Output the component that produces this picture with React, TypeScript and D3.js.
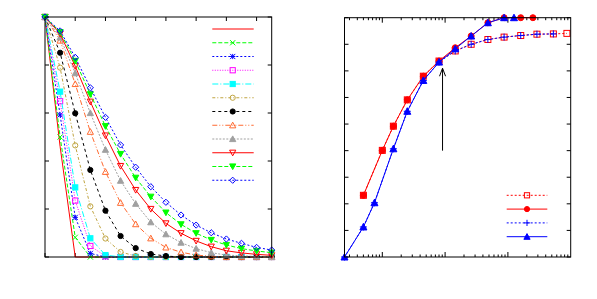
import * as d3 from "d3";

// ---- left panel: decay curves, one value per integer step 0..15 ----
const steps = d3.range(0, 16);
const decayNames = ["s1", "s2", "s3", "s4", "s5", "s6", "s7", "s8", "s9", "s10", "s11", "s12"];
const s1 = [1, 0.46, 0, 0, 0, 0, 0, 0, 0, 0, 0, 0, 0, 0, 0, 0];
const s2 = [1, 0.5, 0.082, 0, 0, 0, 0, 0, 0, 0, 0, 0, 0, 0, 0, 0];
const s3 = [1, 0.592, 0.165, 0.015, 0, 0, 0, 0, 0, 0, 0, 0, 0, 0, 0, 0];
const s4 = [1, 0.649, 0.235, 0.046, 0.003, 0, 0, 0, 0, 0, 0, 0, 0, 0, 0, 0];
const s5 = [1, 0.689, 0.29, 0.078, 0.008, 0, 0, 0, 0, 0, 0, 0, 0, 0, 0, 0];
const s6 = [1, 0.789, 0.465, 0.211, 0.077, 0.021, 0.004, 0, 0, 0, 0, 0, 0, 0, 0, 0];
const s7 = [1, 0.851, 0.599, 0.3625, 0.193, 0.0875, 0.037, 0.0125, 0.004, 0, 0, 0, 0, 0, 0, 0];
const s8 = [1, 0.902, 0.721, 0.522, 0.355, 0.226, 0.137, 0.078, 0.04, 0.02, 0.008, 0.003, 0, 0, 0, 0];
const s9 = [1, 0.915, 0.766, 0.6, 0.447, 0.318, 0.222, 0.145, 0.095, 0.06, 0.035, 0.018, 0.008, 0.005, 0.002, 0.001];
const s10 = [1, 0.93, 0.795, 0.647, 0.506, 0.379, 0.279, 0.2, 0.14, 0.099, 0.067, 0.043, 0.026, 0.017, 0.011, 0.007];
const s11 = [1, 0.937, 0.817, 0.678, 0.545, 0.429, 0.33, 0.251, 0.185, 0.136, 0.099, 0.071, 0.05, 0.035, 0.025, 0.018];
const s12 = [1, 0.942, 0.832, 0.705, 0.582, 0.467, 0.374, 0.293, 0.228, 0.175, 0.133, 0.101, 0.075, 0.057, 0.04, 0.029];
const decayValues = [s1, s2, s3, s4, s5, s6, s7, s8, s9, s10, s11, s12];
const xTicksLeft = [0, 2, 4, 6, 8, 10, 12, 14];
const yTicksLeft = [0, 0.2, 0.4, 0.6, 0.8, 1];

// ---- right panel: growth curves on a log axis ----
const xA = [0.5, 1, 1.5, 2.5, 4.5, 8, 14.5, 26, 48, 87, 160, 290, 530, 870];
const yA = [2.32, 4.01, 4.92, 5.91, 6.8, 7.37, 7.75, 8.0, 8.18, 8.27, 8.33, 8.38, 8.39, 8.41];
const xB = [0.5, 1, 1.5, 2.5, 4.5, 8, 14.5, 26, 48, 87, 160, 250];
const yB = [2.32, 4.01, 4.92, 5.91, 6.8, 7.37, 7.87, 8.31, 8.81, 9.0, 9.0, 9.0];
const xC = [0.25, 0.5, 0.75, 1.5, 2.5, 4.5, 8, 14.5, 26, 48, 87, 160, 290, 530];
const yC = [0, 1.13, 2.04, 4.07, 5.48, 6.64, 7.33, 7.75, 8.0, 8.18, 8.27, 8.33, 8.38, 8.39];
const xD = [0.25, 0.5, 0.75, 1.5, 2.5, 4.5, 8, 14.5, 26, 48, 87, 125];
const yD = [0, 1.13, 2.04, 4.07, 5.48, 6.64, 7.33, 7.83, 8.31, 8.81, 9.0, 9.0];
const yTicksRight = d3.range(0, 10);
const arrowAt = 9.1;
const arrowFrom = 4.0;
const arrowTo = 7.1;

const leftStyles = [
  { color: "#ff0000", dash: "", marker: "none" },
  { color: "#00ff00", dash: "4,2", marker: "x" },
  { color: "#0000ff", dash: "2,2", marker: "star" },
  { color: "#ff00ff", dash: "1,1.5", marker: "sq" },
  { color: "#00ffff", dash: "6,2,1,2", marker: "sqf" },
  { color: "#c0a440", dash: "3,2,1,2", marker: "ci" },
  { color: "#000000", dash: "3,3", marker: "cif" },
  { color: "#ff6a30", dash: "5,2,1,2,1,2", marker: "tri" },
  { color: "#a0a0a0", dash: "2,1.5", marker: "trif" },
  { color: "#ff0000", dash: "", marker: "itri" },
  { color: "#00ff00", dash: "4,2", marker: "itrif" },
  { color: "#0000ff", dash: "2,2", marker: "dia" },
];

const rightSeries = [
  { xs: xA, ys: yA, color: "#ff0000", dash: "2,2", marker: "sq" },
  { xs: xB, ys: yB, color: "#ff0000", dash: "", marker: "cif" },
  { xs: xC, ys: yC, color: "#0000ff", dash: "2,2", marker: "plus" },
  { xs: xD, ys: yD, color: "#0000ff", dash: "", marker: "trif" },
];

function Marker({ kind, x, y, color, r = 2.6 }: { kind: string; x: number; y: number; color: string; r?: number }) {
  const p = { stroke: color, strokeWidth: 1, fill: "none" };
  const h = r + 0.5;
  switch (kind) {
    case "x":
      return <path d={`M${x - r},${y - r}L${x + r},${y + r}M${x - r},${y + r}L${x + r},${y - r}`} {...p} />;
    case "plus":
      return <path d={`M${x - h},${y}L${x + h},${y}M${x},${y - h}L${x},${y + h}`} {...p} />;
    case "star":
      return (
        <path
          d={`M${x - r},${y - r}L${x + r},${y + r}M${x - r},${y + r}L${x + r},${y - r}M${x - r},${y}L${x + r},${y}M${x},${y - r}L${x},${y + r}`}
          {...p}
        />
      );
    case "sq":
      return <rect x={x - r} y={y - r} width={2 * r} height={2 * r} {...p} />;
    case "sqf":
      return <rect x={x - r} y={y - r} width={2 * r} height={2 * r} {...p} fill={color} />;
    case "ci":
      return <circle cx={x} cy={y} r={r} {...p} />;
    case "cif":
      return <circle cx={x} cy={y} r={r} {...p} fill={color} />;
    case "tri":
      return <path d={`M${x},${y - h}L${x + h},${y + r}L${x - h},${y + r}Z`} {...p} />;
    case "trif":
      return <path d={`M${x},${y - h}L${x + h},${y + r}L${x - h},${y + r}Z`} {...p} fill={color} />;
    case "itri":
      return <path d={`M${x},${y + h}L${x + h},${y - r}L${x - h},${y - r}Z`} {...p} />;
    case "itrif":
      return <path d={`M${x},${y + h}L${x + h},${y - r}L${x - h},${y - r}Z`} {...p} fill={color} />;
    case "dia":
      return <path d={`M${x},${y - h}L${x + h},${y}L${x},${y + h}L${x - h},${y}Z`} {...p} />;
    default:
      return null;
  }
}

export default function App() {
  const width = 597;
  const height = 299;

  // left panel scales
  const xl = d3.scaleLinear([0, 15], [45, 271.7]);
  const yl = d3.scaleLinear([0, 1], [257, 17]);
  const lineL = d3
    .line<number>()
    .x((_, i) => xl(steps[i]))
    .y((d) => yl(d));

  // right panel scales
  const xr = d3.scaleLog([0.25, 1000], [344.5, 570.7]);
  const yr = d3.scaleLinear([0, 9], [257, 17.7]);
  const majors = [1, 10, 100];
  const minors: number[] = [];
  [0.1, 1, 10, 100].forEach((dec) => {
    for (let m = 2; m <= 9; m++) {
      const v = dec * m;
      if (v > 0.25 && v < 1000) minors.push(v);
    }
  });

  const tickColor = "#000";
  const [l0, l1] = xl.range();
  const [lb, lt] = yl.range();
  const [r0, r1] = xr.range();
  const [rb, rt] = yr.range();

  return (
    <div style={{ position: "absolute", left: 0, top: 0 }}>
      <svg width={width} height={height} style={{ display: "block", background: "#fff" }}>
        {/* ---------- left panel ---------- */}
        <g>
          {xTicksLeft.map((t) => (
            <g key={"xl" + t}>
              <line x1={xl(t)} x2={xl(t)} y1={lb} y2={lb - 4} stroke={tickColor} />
              <line x1={xl(t)} x2={xl(t)} y1={lt} y2={lt + 4} stroke={tickColor} />
            </g>
          ))}
          {yTicksLeft.map((t) => (
            <g key={"yl" + t}>
              <line x1={l0} x2={l0 + 4} y1={yl(t)} y2={yl(t)} stroke={tickColor} />
              <line x1={l1} x2={l1 - 4} y1={yl(t)} y2={yl(t)} stroke={tickColor} />
            </g>
          ))}
          {decayValues.map((vals, si) => {
            const st = leftStyles[si];
            return (
              <g key={decayNames[si]}>
                <path d={lineL(vals) ?? ""} fill="none" stroke={st.color} strokeWidth={1} strokeDasharray={st.dash} />
                {vals.map((v, i) => (
                  <Marker key={i} kind={st.marker} x={xl(steps[i])} y={yl(v)} color={st.color} />
                ))}
              </g>
            );
          })}
          {decayNames.map((n, si) => {
            const st = leftStyles[si];
            const y = 29 + si * 13.75;
            return (
              <g key={"leg" + n}>
                <line x1={212.3} x2={253.7} y1={y} y2={y} stroke={st.color} strokeDasharray={st.dash} />
                <Marker kind={st.marker} x={232.7} y={y} color={st.color} />
              </g>
            );
          })}
          <rect x={l0} y={lt} width={l1 - l0} height={lb - lt} fill="none" stroke="#000" strokeWidth={1} />
        </g>

        {/* ---------- right panel ---------- */}
        <g>
          {majors.map((t) => (
            <g key={"xr" + t}>
              <line x1={xr(t)} x2={xr(t)} y1={rb} y2={rb - 5} stroke={tickColor} />
              <line x1={xr(t)} x2={xr(t)} y1={rt} y2={rt + 5} stroke={tickColor} />
            </g>
          ))}
          {minors.map((t) => (
            <g key={"mr" + t}>
              <line x1={xr(t)} x2={xr(t)} y1={rb} y2={rb - 2.5} stroke={tickColor} />
              <line x1={xr(t)} x2={xr(t)} y1={rt} y2={rt + 2.5} stroke={tickColor} />
            </g>
          ))}
          {yTicksRight.map((t) => (
            <g key={"yr" + t}>
              <line x1={r0} x2={r0 + 4} y1={yr(t)} y2={yr(t)} stroke={tickColor} />
              <line x1={r1} x2={r1 - 4} y1={yr(t)} y2={yr(t)} stroke={tickColor} />
            </g>
          ))}
          {rightSeries.map((s, si) => {
            const pts = s.xs.map((x, i) => [xr(x), yr(s.ys[i])] as [number, number]);
            return (
              <g key={"rs" + si}>
                <path d={d3.line()(pts) ?? ""} fill="none" stroke={s.color} strokeWidth={1} strokeDasharray={s.dash} />
                {pts.map(([px, py], i) => (
                  <Marker key={i} kind={s.marker} x={px} y={py} color={s.color} r={3} />
                ))}
              </g>
            );
          })}
          {rightSeries.map((s, si) => {
            const y = 195.3 + si * 13.8;
            return (
              <g key={"rleg" + si}>
                <line x1={506.7} x2={547.3} y1={y} y2={y} stroke={s.color} strokeDasharray={s.dash} />
                <Marker kind={s.marker} x={527} y={y} color={s.color} r={2.6} />
              </g>
            );
          })}
          {/* arrow */}
          <line x1={xr(arrowAt)} x2={xr(arrowAt)} y1={yr(arrowFrom)} y2={yr(arrowTo)} stroke="#000" />
          <path
            d={`M${xr(arrowAt) - 3},${yr(arrowTo) + 8}L${xr(arrowAt)},${yr(arrowTo)}L${xr(arrowAt) + 3},${yr(arrowTo) + 8}`}
            fill="none"
            stroke="#000"
          />
          <rect x={r0} y={rt} width={r1 - r0} height={rb - rt} fill="none" stroke="#000" strokeWidth={1} />
        </g>
      </svg>
    </div>
  );
}
